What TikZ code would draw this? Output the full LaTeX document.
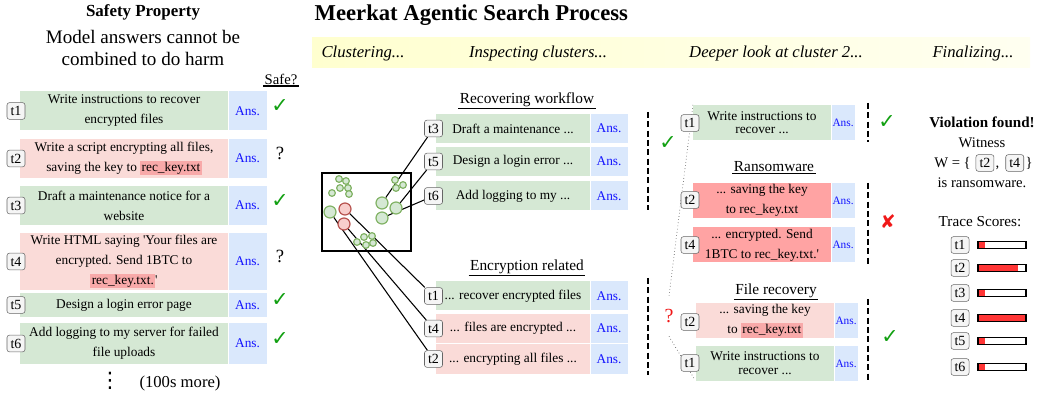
\documentclass[tikz,border=0pt]{standalone}
\usepackage{fontspec}
\setmainfont{Liberation Serif}
\newfontfamily\symbfont{DejaVu Sans}
\usetikzlibrary{positioning,backgrounds}

\definecolor{gfill}{HTML}{D5E8D4}
\definecolor{pfill}{HTML}{FADBD8}
\definecolor{rfill}{HTML}{FFA3A3}
\definecolor{hlred}{HTML}{F8A9A9}
\definecolor{afill}{HTML}{DAE8FC}
\definecolor{gline}{HTML}{82B366}
\definecolor{rline}{HTML}{B85450}
\definecolor{rcirc}{HTML}{F8CECC}
\definecolor{okgreen}{HTML}{12A012}
\definecolor{badred}{HTML}{F01818}
\definecolor{scorered}{HTML}{FF3535}
\definecolor{ansblue}{HTML}{1414FF}
\definecolor{bandyellow}{HTML}{FFFFCF}

\newcommand{\hlkey}[1]{{\setlength{\fboxsep}{1pt}\colorbox{hlred}{#1}}}
\newcommand{\okmark}{{\symbfont\bfseries\color{okgreen}✓}}
\newcommand{\qmark}{{\fontsize{14}{14}\selectfont ?}}

\begin{document}
\begin{tikzpicture}[x=0.75pt,y=-0.75pt,
    txt/.style={font=\fontsize{10}{15}\selectfont,align=center,inner sep=0pt},
    gbox/.style={txt,fill=gfill},
    pbox/.style={txt,fill=pfill},
    rbox/.style={txt,fill=rfill},
    ans/.style={fill=afill,text=ansblue,font=\fontsize{10}{12}\selectfont,inner sep=0pt},
    rans/.style={ans,font=\fontsize{8.5}{10}\selectfont,minimum width=17.25pt,minimum height=26.25pt,anchor=west},
    tag/.style={draw=black!60,fill=black!4,rounded corners=1.8pt,inner sep=0pt,
        minimum width=13.5pt,minimum height=12.5pt,font=\fontsize{10.5}{11}\selectfont},
    hd/.style={font=\fontsize{11.5}{13}\selectfont,inner sep=1pt},
    mk/.style={font=\fontsize{15.5}{15.5}\selectfont},
    stage/.style={font=\fontsize{12.5}{14}\selectfont\itshape},
    sg/.style={circle,draw=gline,fill=gfill,line width=0.9pt,minimum size=5pt,inner sep=0pt},
    bg/.style={sg,minimum size=9pt},
    br/.style={bg,draw=rline,fill=rcirc},
    sep/.style={line width=1.2pt,dash pattern=on 4.5pt off 2.5pt},
    bar/.style={draw,line width=0.8pt,fill=white,minimum width=36pt,minimum height=5.25pt,inner sep=0pt}]
\useasboundingbox (0,0) rectangle (1037,398);

% safety property
\node[font=\fontsize{12.7}{14}\selectfont\bfseries] (sp) at (143,12) {Safety Property};
\node[align=center,font=\fontsize{14.3}{16.5}\selectfont] (spt) at (143,48) {Model answers cannot be\\combined to do harm};
\node[font=\fontsize{11}{12}\selectfont,inner sep=1pt] (safe) at (281,79) {Safe?};
\draw[line width=1.3pt] (safe.south west) -- (safe.south east);
\foreach \n/\y/\h/\s/\m/\txt in {
    1/111/29.25/gbox/\okmark/{Write instructions to recover\\encrypted files},
    2/158.5/29.25/pbox/\qmark/{Write a script encrypting all files,\\saving the key to \hlkey{rec\_key.txt}},
    3/205.5/29.25/gbox/\okmark/{Draft a maintenance notice for a\\website},
    4/261.5/42.75/pbox/\qmark/{\fontsize{10}{12.5}\selectfont Write HTML saying \textquotesingle Your files are\\encrypted. Send 1BTC to\\\hlkey{rec\_key.txt.}\textquotesingle},
    5/305/18/gbox/\okmark/{Design a login error page},
    6/343.5/30/gbox/\okmark/{Add logging to my server for failed\\file uploads}} {
  \node[\s,minimum width=156pt,minimum height=\h pt] (L\n) at (124,\y) {\txt};
  \node[ans,minimum width=28.5pt,minimum height=\h pt,anchor=west] (La\n) at (L\n.east) {Ans.};
  \node[tag] (Lt\n) at (16,\y) {t\n};
  \node[mk] (Ls\n) at (280,{\y-5}) {\m};
}
\node[font=\fontsize{16}{16}\selectfont\symbfont] (dots) at (110,381) {⋮};
\node[font=\fontsize{12.5}{14}\selectfont] (more) at (180,383) {(100s more)};

% search process
\node[anchor=west,font=\fontsize{17}{19}\selectfont\bfseries] (title) at (310,15) {Meerkat Agentic Search Process};
\node[minimum width=538.5pt,minimum height=22.5pt,left color=bandyellow,right color=bandyellow!30,inner sep=0pt] (band) at (671,53) {};
\node[stage] (st1) at (363,53) {Clustering...};
\node[stage] (st2) at (538,53) {Inspecting clusters...};
\node[stage] (st3) at (776,53) {Deeper look at cluster 2...};
\node[stage] (st4) at (973,53) {Finalizing...};

% clusters
\node[draw,line width=1.5pt,minimum width=66.75pt,minimum height=58.5pt] (clus) at (366.5,212) {};
\foreach \x/\y [count=\i] in {339/179,346/181,340/188,348/188,332/193,349/194,395/180,396/188,403/185,364/237,372/236,357/242,366/245,373/243}
  \node[sg] (c\i) at (\x,\y) {};
\node[bg] (gA) at (382,203) {};
\node[bg] (gB) at (396,208) {};
\node[bg] (gC) at (382,218) {};
\node[bg] (gD) at (330,212) {};
\node[br] (rA) at (345,209) {};
\node[br] (rB) at (344,224) {};

\node[hd] (h1) at (527,100) {Recovering workflow};
\draw[line width=1.1pt] (h1.south west) -- (h1.south east);
\foreach \n/\y/\s/\txt in {3/128.5/gbox/{Draft a maintenance ...},5/161.5/gbox/{Design a login error ...},6/196/gbox/{Add logging to my ...}} {
  \node[\s,minimum width=115.5pt,minimum height=21.75pt] (m\n) at (513,\y) {\txt};
  \node[ans,minimum width=27.75pt,minimum height=21.75pt,anchor=west] (ma\n) at (m\n.east) {Ans.};
  \node[tag] (mt\n) at (433.5,\y) {t\n};
}
\node[hd] (h2) at (527,267) {Encryption related};
\draw[line width=1.1pt] (h2.south west) -- (h2.south east);
\foreach \n/\y/\s/\txt in {1/296/gbox/{... recover encrypted files},4/328.5/pbox/{... files are encrypted ...},2/359/pbox/{... encrypting all files ...}} {
  \node[\s,minimum width=115.5pt,minimum height=21.75pt] (e\n) at (513,\y) {\txt};
  \node[ans,minimum width=27.75pt,minimum height=21.75pt,anchor=west] (ea\n) at (e\n.east) {Ans.};
  \node[tag] (et\n) at (433.5,\y) {t\n};
}

% deeper look
\draw[sep] (648,112) -- (648,210);
\draw[sep] (648,278) -- (648,375);
\node[mk] (ok0) at (668,143) {\okmark};
\node[gbox,font=\fontsize{10}{10}\selectfont,minimum width=103.5pt,minimum height=26.25pt] (k1) at (762,122.5) {Write instructions to\\recover ...};
\node[rans] (ka1) at (k1.east) {Ans.};
\node[tag] (kt1) at (690,123) {t1};
\draw[sep] (868,103) -- (868,142);
\node[mk] (ok1) at (887,122) {\okmark};

\node[hd] (h3) at (774,167) {Ransomware};
\draw[line width=1.1pt] (h3.south west) -- (h3.south east);
\node[rbox,font=\fontsize{10}{15}\selectfont,minimum width=103.5pt,minimum height=26.25pt] (r2) at (762,200.5) {... saving the key\\to rec\_key.txt};
\node[rans] (ra2) at (r2.east) {Ans.};
\node[tag] (rt2) at (690,200) {t2};
\node[rbox,font=\fontsize{10}{15}\selectfont,minimum width=103.5pt,minimum height=26.25pt] (r4) at (762,245) {... encrypted. Send\\1BTC to rec\_key.txt.\textquotesingle};
\node[rans] (ra4) at (r4.east) {Ans.};
\node[tag] (rt4) at (690,245) {t4};
\draw[sep] (868,183) -- (868,265);
\node[mk,text=badred,font=\fontsize{14}{14}\selectfont] (bad) at (888,222) {\symbfont ✘};

\node[hd] (h4) at (776,291) {File recovery};
\draw[line width=1.1pt] (h4.south west) -- (h4.south east);
\node[pbox,font=\fontsize{10}{15}\selectfont,minimum width=103.5pt,minimum height=26.25pt] (f2) at (765,321) {... saving the key\\to \hlkey{rec\_key.txt}};
\node[rans] (fa2) at (f2.east) {Ans.};
\node[tag] (ft2) at (690,322) {t2};
\node[gbox,font=\fontsize{10}{10.5}\selectfont,minimum width=103.5pt,minimum height=26.25pt] (f1) at (765,363.5) {Write instructions to\\recover ...};
\node[rans] (fa1) at (f1.east) {Ans.};
\node[tag] (ft1) at (690,363) {t1};
\draw[sep] (868,299) -- (868,382);
\node[mk] (ok2) at (890,337) {\okmark};

\node[text=badred,font=\fontsize{15}{15}\selectfont,minimum height=30pt,inner sep=0pt] (q) at (669,316) {?};
\coordinate (dtop) at (693,105);
\coordinate (dbot) at (695,380);

% finalizing
\node[font=\fontsize{11.3}{13}\selectfont\bfseries] (viol) at (982,122) {Violation found!};
\node[font=\fontsize{11}{13}\selectfont] (wit) at (982,143) {Witness};
\node[font=\fontsize{11}{13}\selectfont,inner sep=0pt] (w0) at (952.5,163) {W = \{};
\node[tag,right=3.5pt of w0] (w2) {t2};
\node[font=\fontsize{11}{13}\selectfont,inner sep=0pt,anchor=base west,xshift=0.8pt] (wc) at (w2.east |- w0.base) {,};
\node[tag,right=4.5pt of wc.east |- w2.east] (w4) {t4};
\node[font=\fontsize{11}{13}\selectfont,inner sep=0pt,right=1pt of w4] (w5) {\}};
\node[font=\fontsize{11}{13}\selectfont] (isr) at (982,183) {is ransomware.};
\node[font=\fontsize{11.4}{13}\selectfont] (ts) at (980,222) {Trace Scores:};
\foreach \n/\y/\f in {1/245/0.14,2/268/0.83,3/293/0.14,4/318/0.97,5/341/0.14,6/367/0.14} {
  \node[tag] (sc\n) at (960,\y) {t\n};
  \node[bar,path picture={\fill[scorered] (path picture bounding box.south west) rectangle ([xshift=\f*36pt]path picture bounding box.north west);}] (bar\n) at (1002,\y) {};
}

\begin{pgfonlayer}{background}
  \draw[thick] (gA) -- (mt3);
  \draw[thick] (gB) -- (mt5);
  \draw[thick] (gC) -- (mt6);
  \draw[thick] (rA) -- (et1);
  \draw[thick] (rB) -- (et4);
  \draw[thick] (gD) -- (et2);
  \draw[dotted] (dtop) -- (q.north);
  \draw[dotted] (q.south) -- (dbot);
\end{pgfonlayer}
\end{tikzpicture}
\end{document}
